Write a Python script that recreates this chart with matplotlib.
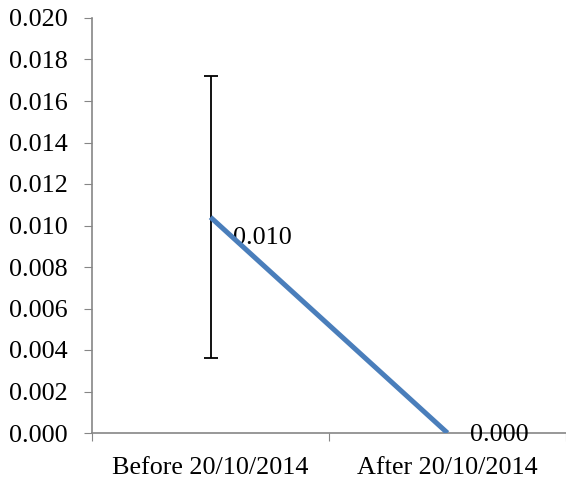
import matplotlib
matplotlib.use("Agg")
import matplotlib.pyplot as plt

categories = ["Before 20/10/2014", "After 20/10/2014"]
values = [0.0104, 0.0]
errors = [0.0068, 0.0]
labels = ["0.010", "0.000"]

plt.rcParams['font.family'] = ['Liberation Serif', 'DejaVu Serif']

fig = plt.figure(figsize=(5.66, 4.82), dpi=100)
ax = fig.add_axes([92/566, 49/482, 474/566, 415/482])

x = list(range(len(categories)))
ax.errorbar(x[:1], values[:1], yerr=errors[:1], fmt='none', ecolor='black',
            elinewidth=1.3, capsize=5, capthick=1.3, zorder=2)
ax.plot(x, values, color='#4A7EBB', lw=3.6, solid_capstyle='butt', zorder=3)

offsets = [(16, -15), (16, -1.5)]
for xi, v, lab, off in zip(x, values, labels, offsets):
    ax.annotate(lab, (xi, v), xytext=off, textcoords='offset points',
                ha='left', va='center', fontsize=18.8, color='black', zorder=1)

ax.set_xlim(-0.5, 1.5)
ax.set_ylim(0, 0.020)
ax.set_yticks([i * 0.002 for i in range(11)])
ax.set_yticklabels([f"{i*0.002:.3f}" for i in range(11)])
ax.set_xticks([-0.5, 0.5, 1.5])
ax.set_xticklabels([])
ax.set_xticks(x, minor=True)
ax.set_xticklabels(categories, minor=True)
ax.tick_params(axis='x', which='minor', length=0, pad=17, labelsize=18.8)
ax.tick_params(axis='x', which='major', length=6, color='#868686', direction='out')
ax.tick_params(axis='y', length=6, color='#868686', direction='out', labelsize=18.8, pad=11.5)

for s in ['top', 'right']:
    ax.spines[s].set_visible(False)
for s in ['left', 'bottom']:
    ax.spines[s].set_color('#868686')
    ax.spines[s].set_linewidth(1.2)
ax.spines['bottom'].set_zorder(0)

fig.savefig("out.png", dpi=100)
